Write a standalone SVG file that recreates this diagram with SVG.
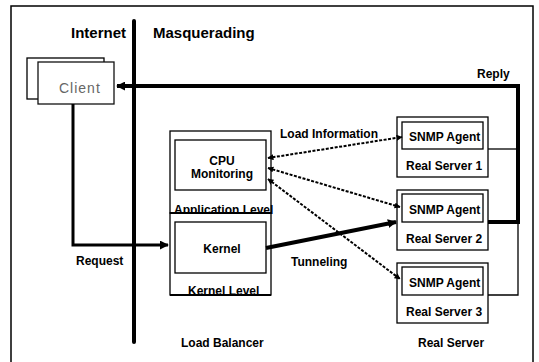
<svg xmlns="http://www.w3.org/2000/svg" width="539" height="362" viewBox="0 0 539 362">
<style>
.t{font-family:"Liberation Sans",Arial,sans-serif;font-weight:bold;font-size:12px;fill:#000}
.h{font-size:15px}
.box{fill:#fff;stroke:#000;stroke-width:1.3}
.thin{fill:none;stroke:#000;stroke-width:1.3}
.thick{fill:none;stroke:#000;stroke-width:4}
.dash{fill:none;stroke:#000;stroke-width:2;stroke-dasharray:3,1.5}
</style>
<defs>
<marker id="ah" viewBox="0 0 10 10" refX="9" refY="5" markerWidth="9" markerHeight="9" markerUnits="userSpaceOnUse" orient="auto"><path d="M0,0 L10,5 L0,10 z" fill="#000"/></marker>
<marker id="as" viewBox="0 0 10 10" refX="9" refY="5" markerWidth="6" markerHeight="6" markerUnits="userSpaceOnUse" orient="auto-start-reverse"><path d="M0,0 L10,5 L0,10 z" fill="#000"/></marker>
</defs>
<rect x="0" y="0" width="539" height="362" fill="#fff"/>
<rect x="11" y="6" width="522" height="362" fill="none" stroke="#000" stroke-width="1.5"/>
<g id="divider"><line x1="134" y1="21" x2="134" y2="342" stroke="#000" stroke-width="4" stroke-linecap="round"/></g>
<text class="t h" x="71" y="38">Internet</text>
<text class="t h" x="153" y="38">Masquerading</text>
<g id="client">
<rect x="27" y="58" width="77" height="41" fill="#fff" stroke="#000" stroke-width="1.3"/>
<rect x="38" y="62" width="76" height="42" fill="#fff" stroke="#111" stroke-width="1.3"/>
<text x="59" y="93" font-family="Liberation Sans, Arial, sans-serif" font-size="14" fill="#666" letter-spacing="1">Client</text>
</g>
<g id="load-balancer">
<rect class="box" x="170" y="131" width="101" height="82"/>
<rect class="box" x="175" y="140" width="91" height="50"/>
<text class="t" x="222" y="165" text-anchor="middle">CPU</text>
<text class="t" x="222" y="178" text-anchor="middle">Monitoring</text>
<text class="t" x="174" y="214">Application Level</text>
<rect class="box" x="170" y="213" width="101" height="82"/>
<rect class="box" x="175" y="222" width="91" height="51"/>
<text class="t" x="222" y="253" text-anchor="middle">Kernel</text>
<text class="t" x="188" y="295">Kernel Level</text>
<line x1="170" y1="213" x2="271" y2="213" stroke="#000" stroke-width="2"/>
<line x1="170" y1="295" x2="271" y2="295" stroke="#000" stroke-width="2"/>
</g>
<g id="rs1">
<rect class="box" x="397" y="117" width="91" height="60"/>
<rect class="box" x="402" y="122" width="81" height="27" stroke-width="1.8"/>
<text class="t" x="409" y="141">SNMP Agent</text>
<text class="t" x="406" y="170">Real Server 1</text>
</g>
<g id="rs2">
<rect class="box" x="397" y="190" width="91" height="60"/>
<rect class="box" x="402" y="194" width="81" height="28" stroke-width="1.8"/>
<text class="t" x="409" y="214">SNMP Agent</text>
<text class="t" x="406" y="243">Real Server 2</text>
</g>
<g id="rs3">
<rect class="box" x="397" y="263" width="91" height="60"/>
<rect class="box" x="402" y="267" width="81" height="28" stroke-width="1.8"/>
<text class="t" x="409" y="287">SNMP Agent</text>
<text class="t" x="406" y="316">Real Server 3</text>
</g>
<g id="connectors">
<polyline class="thick" points="488,222 518,222 518,86 117,86" marker-end="url(#ah)"/>
<line class="thin" x1="488" y1="149" x2="518" y2="149"/>
<polyline class="thin" points="518,222 518,295 488,295"/>
<polyline points="73,104 73,245 168,245" fill="none" stroke="#000" stroke-width="3" marker-end="url(#ah)"/>
<line class="thick" x1="266" y1="248" x2="396" y2="222" marker-end="url(#ah)"/>
<line class="dash" x1="268" y1="158" x2="402" y2="137" marker-start="url(#as)" marker-end="url(#as)"/>
<line class="dash" x1="268" y1="168" x2="400" y2="207" marker-start="url(#as)" marker-end="url(#as)"/>
<line class="dash" x1="268" y1="179" x2="400" y2="279" stroke-width="1.4" stroke-dasharray="2,1" marker-start="url(#as)" marker-end="url(#as)"/>
</g>
<text class="t" x="477" y="78">Reply</text>
<text class="t" x="280" y="138">Load Information</text>
<text class="t" x="76" y="265">Request</text>
<text class="t" x="291" y="266">Tunneling</text>
<text class="t" x="181" y="347">Load Balancer</text>
<text class="t" x="418" y="347">Real Server</text>
</svg>
